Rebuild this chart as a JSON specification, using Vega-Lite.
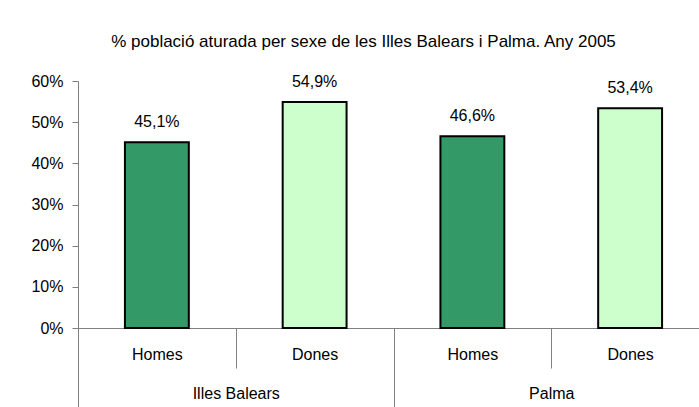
{
  "$schema": "https://vega.github.io/schema/vega-lite/v6.json",
  "autosize": "none",
  "padding": {"left": 78, "top": 81, "right": -10, "bottom": 79},
  "width": 631,
  "height": 247,
  "background": "white",
  "title": {
    "text": "% població aturada per sexe de les Illes Balears i Palma. Any 2005",
    "font": "Liberation Sans",
    "fontSize": 17,
    "fontWeight": "normal",
    "color": "black",
    "anchor": "middle",
    "dx": -30,
    "offset": 22
  },
  "config": {
    "locale": {"number": {"decimal": ",", "thousands": ".", "grouping": [3], "currency": ["", " €"]}},
    "view": {"stroke": null},
    "axis": {
      "labelFont": "Liberation Sans",
      "labelFontSize": 16,
      "labelColor": "black",
      "domainColor": "#808080",
      "tickColor": "#808080",
      "grid": false,
      "title": null
    }
  },
  "data": {
    "values": [
      {"region": "Illes Balears", "sexe": "Homes", "key": "Illes Balears|Homes", "value": 0.451},
      {"region": "Illes Balears", "sexe": "Dones", "key": "Illes Balears|Dones", "value": 0.549},
      {"region": "Palma", "sexe": "Homes", "key": "Palma|Homes", "value": 0.466},
      {"region": "Palma", "sexe": "Dones", "key": "Palma|Dones", "value": 0.534}
    ]
  },
  "layer": [
    {
      "encoding": {
        "x": {
          "field": "key",
          "type": "nominal",
          "sort": null,
          "scale": {"paddingInner": 0, "paddingOuter": 0},
          "axis": {
            "orient": "bottom",
            "labelExpr": "split(datum.value, '|')[1]",
            "labelAngle": 0,
            "tickBand": "extent",
            "tickSize": 40,
            "labelPadding": -22
          }
        },
        "y": {
          "field": "value",
          "type": "quantitative",
          "scale": {"domain": [0, 0.6], "nice": false},
          "axis": {
            "values": [0, 0.1, 0.2, 0.3, 0.4, 0.5, 0.6],
            "format": ".0%",
            "tickSize": 6,
            "labelPadding": 9
          }
        }
      },
      "layer": [
        {
          "mark": {"type": "bar", "stroke": "black", "strokeWidth": 2, "width": {"band": 0.405}},
          "encoding": {
            "color": {
              "field": "sexe",
              "type": "nominal",
              "scale": {"domain": ["Homes", "Dones"], "range": ["#339966", "#CCFFCC"]},
              "legend": null
            }
          }
        },
        {
          "mark": {"type": "text", "font": "Liberation Sans", "fontSize": 16, "color": "black", "baseline": "bottom", "dy": -12},
          "encoding": {
            "text": {"field": "value", "type": "quantitative", "format": ".1%"}
          }
        }
      ]
    },
    {
      "mark": {"type": "rule", "strokeOpacity": 0},
      "encoding": {
        "x": {
          "field": "region",
          "type": "nominal",
          "sort": null,
          "scale": {"paddingInner": 0, "paddingOuter": 0},
          "axis": {
            "orient": "bottom",
            "labelAngle": 0,
            "tickBand": "extent",
            "tickSize": 90,
            "labelPadding": -33,
            "domain": false
          }
        },
        "y": {"datum": 0}
      }
    }
  ],
  "resolve": {"scale": {"x": "independent"}, "axis": {"x": "independent"}}
}
